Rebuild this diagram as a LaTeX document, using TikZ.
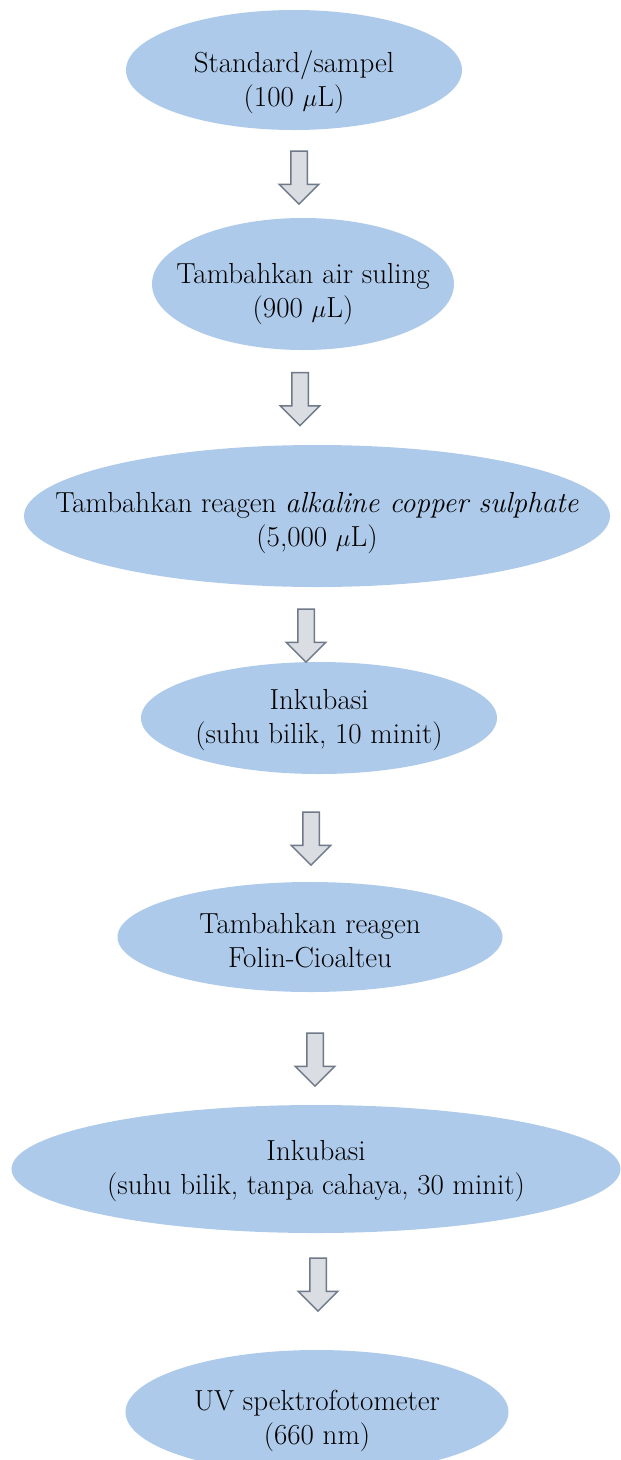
\documentclass[tikz,border=0pt]{standalone}
\usepackage{amsmath,amssymb}
\usepackage{xcolor}
\usepackage{tikz}
\usetikzlibrary{shapes.geometric, shapes.arrows, positioning}

\definecolor{stepblue}{RGB}{174,202,234}
\definecolor{arrowfill}{RGB}{218,221,226}
\definecolor{arrowline}{RGB}{110,121,137}

% two centred lines that take no room, so the ellipse keeps its given size
% (optional argument: how far the lines sit below the ellipse centre)
\newcommand{\steptext}[3][8pt]{\smash{\raisebox{-#1}{\makebox[0pt]{\begin{tabular}{@{}c@{}}#2\\#3\end{tabular}}}}}

\begin{document}
\begin{tikzpicture}[x=1pt, y=-1pt,
        stepnode/.style={ellipse, fill=stepblue, inner sep=0pt,
            font=\fontsize{29}{34}\selectfont},
        downarrow/.style={single arrow, shape border rotate=270, draw=arrowline,
            fill=arrowfill, line width=1.5pt, inner sep=7.5pt, minimum width=39pt,
            single arrow head extend=11.5pt, minimum height=53pt}]

        % Page frame (image size 621 x 1460 px)
        \useasboundingbox (0,0) rectangle (621,1460);
        \clip (0,0) rectangle (621,1460);

        % Steps of the procedure
        \node[stepnode, minimum width=336pt, minimum height=120pt] (sampel) at (294,70)
            {\steptext[19pt]{Standard/sampel}{(100 $\mu$L)}};
        \node[stepnode, minimum width=302pt, minimum height=132pt] (suling) at (303,284)
            {\steptext[16pt]{Tambahkan air suling}{(900 $\mu$L)}};
        \node[stepnode, minimum width=586pt, minimum height=142pt] (copper) at (317,516)
            {\steptext[13pt]{Tambahkan reagen \textit{alkaline copper sulphate}}{(5,000 $\mu$L)}};
        \node[stepnode, minimum width=356pt, minimum height=112pt] (inkubasiA) at (319,718)
            {\steptext{Inkubasi}{(suhu bilik, 10 minit)}};
        \node[stepnode, minimum width=385pt, minimum height=110pt] (folin) at (310,937)
            {\steptext[13pt]{Tambahkan reagen}{Folin-Cioalteu}};
        \node[stepnode, minimum width=609pt, minimum height=128pt] (inkubasiB) at (316,1169)
            {\steptext{Inkubasi}{(suhu bilik, tanpa cahaya, 30 minit)}};
        \node[stepnode, minimum width=383pt, minimum height=124pt] (uv) at (317,1412)
            {\steptext[15pt]{UV spektrofotometer}{(660 nm)}};

        % Block arrows between the steps
        \node[downarrow] (arrA) at (299,173.5) {};
        \node[downarrow] (arrB) at (300,395) {};
        \node[downarrow] (arrC) at (306,631.5) {};
        \node[downarrow] (arrD) at (311,834.5) {};
        \node[downarrow] (arrE) at (315,1055.5) {};
        \node[downarrow] (arrF) at (318,1280.5) {};

    \end{tikzpicture}
\end{document}
